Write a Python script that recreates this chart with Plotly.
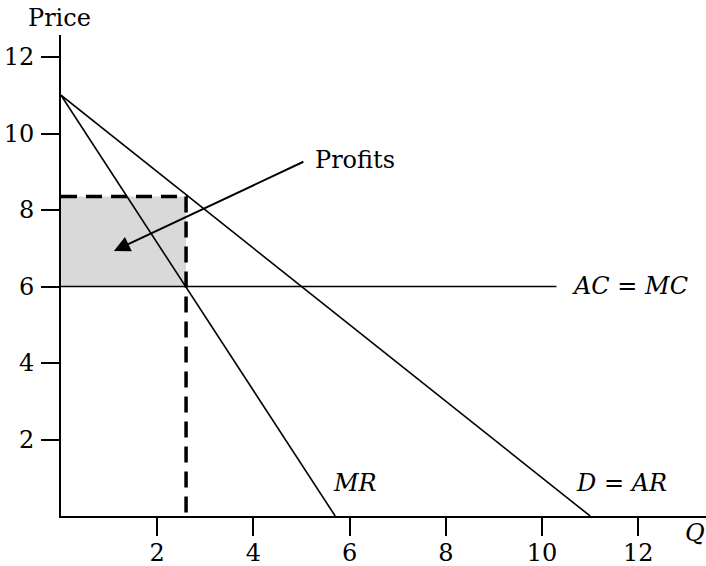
import plotly.graph_objects as go

# ---- data ----
demand_q = [0, 11]
demand_p = [11, 0]
mr_q = [0, 5.7]
mr_p = [11, 0]
ac_q = [0, 10.3]
ac_p = [6, 6]
q_star = 2.6
p_star = 8.35
ac_level = 6
x_ticks = [2, 4, 6, 8, 10, 12]
y_ticks = [2, 4, 6, 8, 10, 12]

FONT = "DejaVu Serif"
FS = 24

fig = go.Figure()

# profit rectangle
fig.add_trace(go.Scatter(
    x=[0, q_star, q_star, 0, 0],
    y=[ac_level, ac_level, p_star, p_star, ac_level],
    fill="toself", fillcolor="#d9d9d9", mode="none",
    hoverinfo="skip", showlegend=False))

# dashed lines
fig.add_trace(go.Scatter(
    x=[0, q_star, q_star], y=[p_star, p_star, 0], mode="lines",
    line=dict(color="black", width=3.5, dash="16px,9px"),
    showlegend=False, hoverinfo="skip", cliponaxis=False))

for xs, ys in [(demand_q, demand_p), (mr_q, mr_p), (ac_q, ac_p)]:
    fig.add_trace(go.Scatter(x=xs, y=ys, mode="lines",
                             line=dict(color="black", width=1.6),
                             showlegend=False, hoverinfo="skip"))

ann = [
    dict(x=5.24, y=9.31, text="Profits", xanchor="left", yanchor="middle"),
    dict(x=10.58, y=6.01, text="<i>AC</i> = <i>MC</i>", xanchor="left", yanchor="middle"),
    dict(x=11.66, y=0.86, text="<i>D</i> = <i>AR</i>", xanchor="center", yanchor="middle"),
    dict(x=6.11, y=0.86, text="<i>MR</i>", xanchor="center", yanchor="middle"),
]
for a in ann:
    fig.add_annotation(xref="x", yref="y", showarrow=False,
                       font=dict(family=FONT, size=FS, color="black"), **a)

# labels outside the plot area (paper coordinates)
fig.add_annotation(xref="paper", yref="paper", x=-0.0016, y=1.035, text="Price",
                   showarrow=False, xanchor="center", yanchor="middle",
                   font=dict(family=FONT, size=FS, color="black"))
fig.add_annotation(xref="paper", yref="paper", x=0.983, y=-0.035, text="<i>Q</i>",
                   showarrow=False, xanchor="center", yanchor="middle",
                   font=dict(family=FONT, size=FS, color="black"))

# arrow from Profits label to the rectangle
fig.add_annotation(x=1.10, y=6.93, ax=5.07, ay=9.28, xref="x", yref="y",
                   axref="x", ayref="y", text="", showarrow=True,
                   arrowhead=2, arrowsize=1.6, arrowwidth=2, arrowcolor="black")

axis_common = dict(showline=True, linecolor="black", linewidth=2,
                   ticks="outside", ticklen=18, tickwidth=2, tickcolor="black",
                   showgrid=False, zeroline=False, automargin=False,
                   tickfont=dict(family=FONT, size=FS, color="black"))

fig.update_xaxes(range=[0, 645 / 48.1], tickvals=x_ticks, ticklabelstandoff=-4, **axis_common)
fig.update_yaxes(range=[0, 481 / 38.25], tickvals=y_ticks, ticklabelstandoff=2, **axis_common)

fig.update_layout(template="none", width=706, height=566,
                  margin=dict(l=61, r=0, t=35, b=50, pad=0),
                  plot_bgcolor="white", paper_bgcolor="white",
                  font=dict(family=FONT, size=FS, color="black"))

fig.write_html("out.html", config={"displayModeBar": False},
               post_script="document.body.style.margin='0';document.body.style.overflow='hidden';")
